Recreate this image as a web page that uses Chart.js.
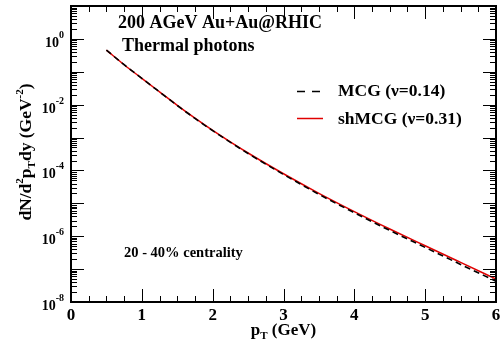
<!DOCTYPE html>
<html><head><meta charset="utf-8">
<script src="https://cdn.jsdelivr.net/npm/chart.js@4"></script>
<style>html,body{margin:0;padding:0;background:#fff}#wrap{width:501px;height:347px}</style>
</head><body><div id="wrap"><canvas id="c" width="501" height="347"></canvas></div>
<script>
// ---- data ----
const pT     = [0.5, 0.75, 1.0, 1.25, 1.5, 1.75, 2.0, 2.5, 3.0, 3.5, 4.0, 4.5, 5.0, 5.5, 6.0];
const shMCG  = [0.457, 0.164, 0.0631, 0.0245, 0.00955, 0.00389, 0.00166, 3.39e-4, 7.94e-5, 2.02e-5, 5.62e-6, 1.66e-6, 5.13e-7, 1.60e-7, 5.01e-8];
const MCG    = [0.457, 0.164, 0.0631, 0.0244, 0.00945, 0.00383, 0.00162, 3.28e-4, 7.58e-5, 1.88e-5, 5.18e-6, 1.50e-6, 4.57e-7, 1.39e-7, 4.27e-8];
const xTickLabels = [0, 1, 2, 3, 4, 5, 6];
const yLabelExps  = [0, -2, -4, -6, -8];
const legendLabels = ['MCG (\u03bd=0.14)', 'shMCG (\u03bd=0.31)'];

const FONT = "'Liberation Serif', 'DejaVu Serif', serif";

function richText(ctx, segs, x, y, align) {
  let total = 0;
  segs.forEach(s => { ctx.font = 'bold ' + s[1] + 'px ' + FONT; total += ctx.measureText(s[0]).width; });
  let cx = align === 'center' ? x - total / 2 : (align === 'right' ? x - total : x);
  ctx.textAlign = 'left';
  ctx.textBaseline = 'alphabetic';
  segs.forEach(s => {
    ctx.font = 'bold ' + s[1] + 'px ' + FONT;
    ctx.fillText(s[0], cx, y + s[2]);
    cx += ctx.measureText(s[0]).width;
  });
}

const decor = {
  id: 'decor',
  afterDraw(chart) {
    const ctx = chart.ctx, a = chart.chartArea;
    const xs = chart.scales.x, ys = chart.scales.y;
    ctx.save();
    ctx.strokeStyle = '#000';
    ctx.fillStyle = '#000';
    ctx.lineWidth = 2;
    ctx.strokeRect(a.left, a.top, a.right - a.left, a.bottom - a.top);
    ctx.lineWidth = 1;
    ctx.beginPath();
    for (let i = 0; i <= 24; i++) {
      const v = i * 0.25;
      const px = Math.round(xs.getPixelForValue(v)) + 0.5;
      const L = (i % 4 === 0) ? 13 : 6;
      ctx.moveTo(px, a.bottom); ctx.lineTo(px, a.bottom - L);
      ctx.moveTo(px, a.top); ctx.lineTo(px, a.top + L);
    }
    for (let e = -8; e <= 1; e++) {
      for (let k = 1; k <= 9; k++) {
        const v = k * Math.pow(10, e);
        if (v > 10 + 1e-9) continue;
        const py = Math.round(ys.getPixelForValue(v)) + 0.5;
        const L = (k === 1) ? 13 : 6;
        ctx.moveTo(a.left, py); ctx.lineTo(a.left + L, py);
        ctx.moveTo(a.right, py); ctx.lineTo(a.right - L, py);
      }
    }
    ctx.stroke();
    // x tick labels
    ctx.textAlign = 'center';
    ctx.textBaseline = 'alphabetic';
    ctx.font = 'bold 17px ' + FONT;
    xTickLabels.forEach(v => {
      ctx.fillText(String(v), xs.getPixelForValue(v), a.bottom + 18);
    });
    // y tick labels
    yLabelExps.forEach(e => {
      const py = ys.getPixelForValue(Math.pow(10, e));
      ctx.font = 'bold 10px ' + FONT;
      const sup = String(e);
      const sw = ctx.measureText(sup).width;
      const xr = a.left - 12 - (e < 0 ? sw - 5 : 0);
      ctx.textAlign = 'left';
      ctx.fillText(sup, xr, py - 1);
      ctx.font = 'bold 14px ' + FONT;
      ctx.textAlign = 'right';
      ctx.fillText('10', xr, py + 8);
    });
    // axis titles
    richText(ctx, [['p', 17, 0], ['T', 11, 4], [' (GeV)', 17, 0]], xs.getPixelForValue(3), 335, 'center');
    ctx.save();
    ctx.translate(25, 152);
    ctx.rotate(-Math.PI / 2);
    richText(ctx, [['dN/d', 17.5, 6], ['2', 11, -2], ['p', 17.5, 6], ['T', 11, 10], ['dy (GeV', 17.5, 6], ['-2', 11, -2], [')', 17.5, 6]], 0, 0, 'center');
    ctx.restore();
    // annotations
    ctx.textAlign = 'left';
    ctx.font = 'bold 18px ' + FONT;
    ctx.fillText('200 AGeV Au+Au@RHIC', 118, 28);
    ctx.fillText('Thermal photons', 122, 51);
    ctx.font = 'bold 14.5px ' + FONT;
    ctx.fillText('20 - 40% centrality', 124, 257);
    // legend
    ctx.font = 'bold 17.5px ' + FONT;
    ctx.fillText(legendLabels[0], 338, 96);
    ctx.fillText(legendLabels[1], 338, 124);
    ctx.lineWidth = 1.5;
    ctx.strokeStyle = '#000';
    ctx.setLineDash([8, 7]);
    ctx.beginPath(); ctx.moveTo(297, 91.5); ctx.lineTo(321, 91.5); ctx.stroke();
    ctx.setLineDash([]);
    ctx.strokeStyle = '#e00000';
    ctx.beginPath(); ctx.moveTo(297, 118.5); ctx.lineTo(323, 118.5); ctx.stroke();
    ctx.restore();
  }
};

new Chart(document.getElementById('c'), {
  type: 'line',
  data: {
    datasets: [
      { label: legendLabels[0], data: pT.map((x, i) => ({ x, y: MCG[i] })), borderColor: '#000', borderWidth: 1.6, borderDash: [6, 4], pointRadius: 0, cubicInterpolationMode: 'monotone', fill: false },
      { label: legendLabels[1], data: pT.map((x, i) => ({ x, y: shMCG[i] })), borderColor: '#e00000', borderWidth: 1.5, pointRadius: 0, cubicInterpolationMode: 'monotone', fill: false }
    ]
  },
  options: {
    responsive: false,
    animation: false,
    devicePixelRatio: 1,
    layout: { padding: { left: 71, right: 5, top: 6, bottom: 45 } },
    plugins: { legend: { display: false }, tooltip: { enabled: false } },
    scales: {
      x: { type: 'linear', min: 0, max: 6, ticks: { display: false }, grid: { display: false, drawTicks: false }, border: { display: false } },
      y: { type: 'logarithmic', min: 1e-8, max: 10, ticks: { display: false }, grid: { display: false, drawTicks: false }, border: { display: false } }
    }
  },
  plugins: [decor]
});
</script>
</body></html>
